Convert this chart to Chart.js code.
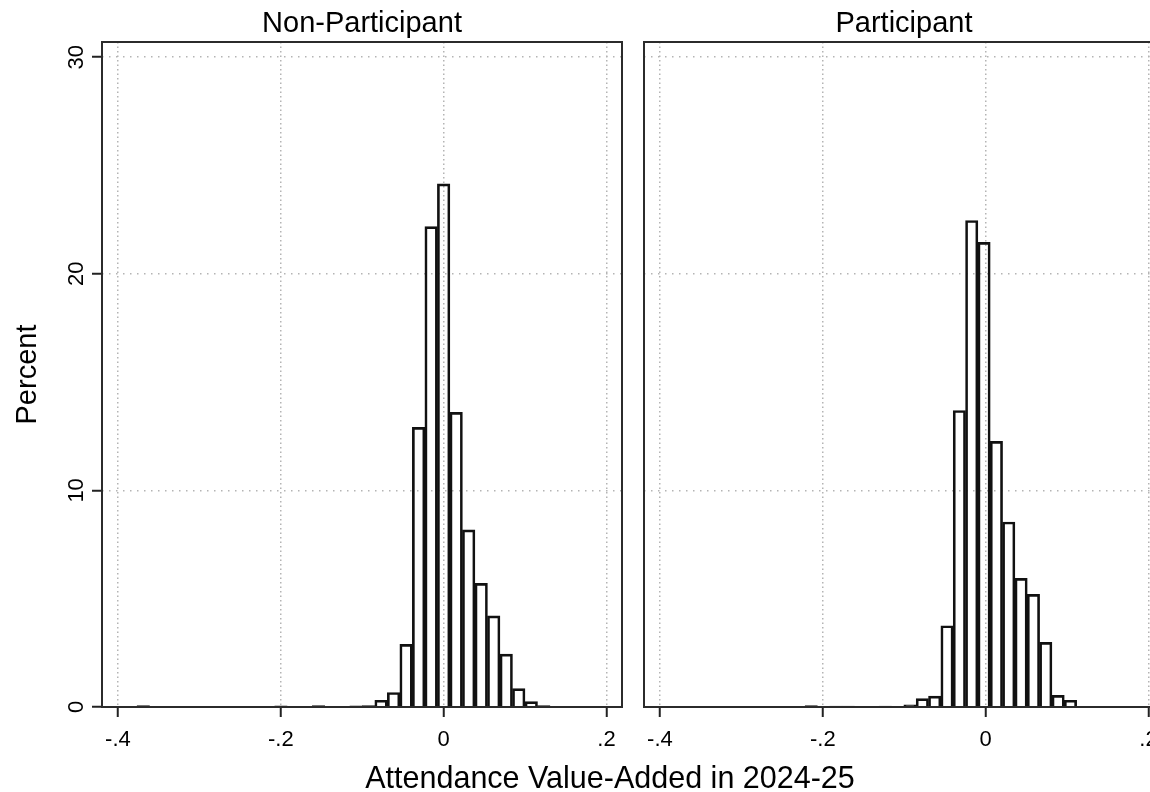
<!DOCTYPE html>
<html>
<head>
<meta charset="utf-8">
<script src="https://cdn.jsdelivr.net/npm/chart.js@4.4.0/dist/chart.umd.min.js"></script>
<style>
  html, body { margin: 0; padding: 0; background: #fff; width: 1150px; height: 792px; overflow: hidden; }
  canvas { position: absolute; top: 0; }
  #leftPanel { left: 0; width: 1150px; height: 792px; }
  #rightPanel { left: 633px; width: 540px; height: 792px; }
</style>
</head>
<body>
<canvas id="leftPanel" width="1150" height="792"></canvas>
<canvas id="rightPanel" width="540" height="792"></canvas>
<script>
// Histogram of attendance value-added, split by program participation.
const panelTitles = ['Non-Participant', 'Participant'];
const xAxisTitle = 'Attendance Value-Added in 2024-25';
const yAxisTitle = 'Percent';

const xTickValues = [-0.4, -0.2, 0, 0.2];
const xTickLabels = ['-.4', '-.2', '0', '.2'];
const yTickValues = [0, 10, 20, 30];
const yTickLabels = ['0', '10', '20', '30'];

// Equal-width bins: lower edge of the first bin and the bin width
const nonPartBinStart = -0.3766;
const nonPartBinWidth = 0.01537;
const nonPartPercent = [0.07, 0, 0, 0, 0, 0, 0, 0, 0, 0, 0, 0.05, 0, 0, 0.07, 0, 0,
  0.05, 0.07, 0.31, 0.67, 2.89, 12.91, 22.18, 24.15, 13.6, 8.18, 5.71, 4.21, 2.44,
  0.85, 0.25, 0.06];

const partBinStart = -0.2218;
const partBinWidth = 0.01516;
const partPercent = [0.06, 0, 0.04, 0.04, 0, 0.03, 0.04, 0, 0.1, 0.39, 0.5, 3.75,
  13.69, 22.46, 21.45, 12.26, 8.54, 5.94, 5.2, 2.98, 0.54, 0.31, 0.03, 0.03, 0.03, 0];

const xMin = -0.4196, xMax = 0.219;
const yMin = 0, yMax = 30.7;

const FONT = "'Liberation Sans', Arial, Helvetica, sans-serif";

function binPoints(start, width, values) {
  return values.map((v, i) => ({ x: start + (i + 0.5) * width, y: v }));
}

// Panel frame, panel heading, rotated y tick labels, shared x-axis title
const panelDecor = {
  id: 'panelDecor',
  afterDatasetsDraw(chart, args, opts) {
    const { ctx, chartArea: a } = chart;
    ctx.save();
    ctx.strokeStyle = '#2b2b2b';
    ctx.lineWidth = 2;
    ctx.strokeRect(a.left, a.top, a.right - a.left, a.bottom - a.top);
    ctx.restore();
  },
  afterDraw(chart, args, opts) {
    const { ctx, chartArea: a } = chart;
    ctx.save();
    ctx.fillStyle = '#000';
    ctx.textAlign = 'center';
    ctx.textBaseline = 'alphabetic';
    ctx.font = `29px ${FONT}`;
    ctx.fillText(opts.heading, (a.left + a.right) / 2, 32);
    if (opts.yLabels) {
      const s = chart.scales.y;
      ctx.font = `22px ${FONT}`;
      ctx.textBaseline = 'middle';
      yTickValues.forEach((v, i) => {
        ctx.save();
        ctx.translate(77, s.getPixelForValue(v));
        ctx.rotate(-Math.PI / 2);
        ctx.fillText(yTickLabels[i], 0, 0);
        ctx.restore();
      });
    }
    if (opts.xTitle) {
      ctx.font = `30.5px ${FONT}`;
      ctx.textBaseline = 'alphabetic';
      ctx.fillText(opts.xTitle, 610, 788);
    }
    ctx.restore();
  }
};

function panelConfig(points, heading, isFirst, canvasWidth, plotRight) {
  return {
    type: 'bar',
    data: {
      datasets: [{
        data: points,
        backgroundColor: 'rgba(255,255,255,0)',
        borderColor: '#111',
        borderWidth: 2,
        barPercentage: 1,
        categoryPercentage: 1,
        grouped: false
      }]
    },
    options: {
      responsive: false,
      animation: false,
      events: [],
      layout: { padding: { top: 42, left: 0, right: canvasWidth - plotRight, bottom: 0 } },
      plugins: {
        legend: { display: false },
        tooltip: { enabled: false },
        panelDecor: { heading: heading, yLabels: isFirst, xTitle: isFirst ? xAxisTitle : null }
      },
      scales: {
        x: {
          type: 'linear',
          min: xMin,
          max: xMax,
          offset: false,
          afterBuildTicks: s => { s.ticks = xTickValues.map(v => ({ value: v })); },
          afterFit: s => { s.height = 85; },
          ticks: {
            callback: (v) => { const i = xTickValues.indexOf(v); return i >= 0 ? xTickLabels[i] : ''; },
            font: { family: FONT, size: 22 },
            color: '#000',
            padding: 10,
            maxRotation: 0,
            autoSkip: false
          },
          grid: {
            offset: false,
            color: '#b4b4b4',
            lineWidth: 1.5,
            drawTicks: true,
            tickLength: 10,
            tickColor: '#222',
            tickWidth: 2
          },
          border: { display: false, dash: [1.5, 3] }
        },
        y: {
          type: 'linear',
          min: yMin,
          max: yMax,
          afterBuildTicks: s => { s.ticks = yTickValues.map(v => ({ value: v })); },
          afterFit: s => { s.width = isFirst ? 102 : 11; },
          ticks: { display: false },
          grid: {
            color: '#b4b4b4',
            lineWidth: 1.5,
            drawTicks: isFirst,
            tickLength: 10,
            tickColor: '#222',
            tickWidth: 2
          },
          border: { display: false, dash: [1.5, 5.5] },
          title: {
            display: isFirst,
            text: yAxisTitle,
            color: '#000',
            font: { family: FONT, size: 29 },
            padding: { top: 11, bottom: 0 }
          }
        }
      }
    },
    plugins: [panelDecor]
  };
}

new Chart(document.getElementById('leftPanel'),
  panelConfig(binPoints(nonPartBinStart, nonPartBinWidth, nonPartPercent), panelTitles[0], true, 1150, 622));
new Chart(document.getElementById('rightPanel'),
  panelConfig(binPoints(partBinStart, partBinWidth, partPercent), panelTitles[1], false, 540, 531));
</script>
</body>
</html>
